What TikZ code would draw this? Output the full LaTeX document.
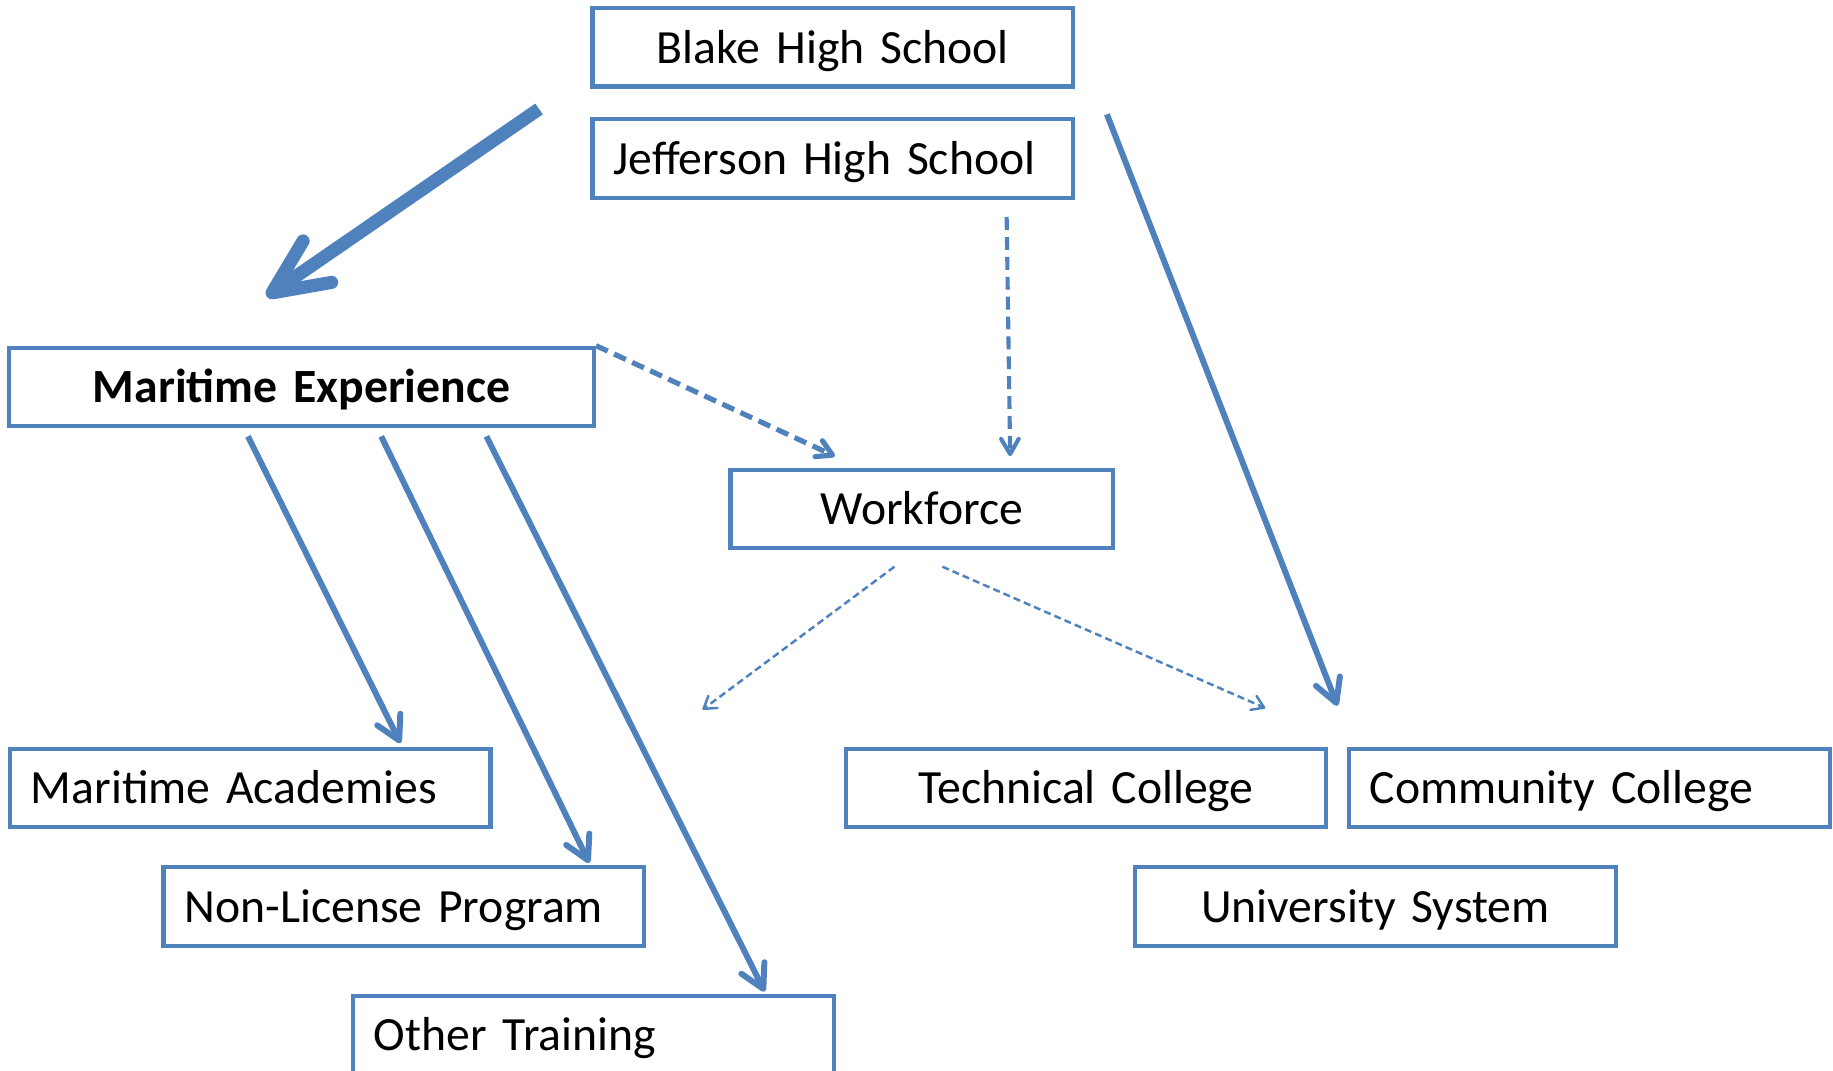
\documentclass[tikz,border=0pt]{standalone}
\usepackage{fontspec}
\setmainfont{Carlito}[WordSpace=0.85]
\usetikzlibrary{arrows.meta}
\definecolor{accent}{RGB}{79,129,189}
\begin{document}
\begin{tikzpicture}[x=0.01cm, y=-0.01cm,
		box/.style={draw=accent, line width=1pt, rectangle, minimum height=0.67cm, inner xsep=0.18cm, inner ysep=0pt, text width=3.75cm, text height=0.31cm, text depth=0.04cm, font=\fontsize{11.6}{14}\selectfont},
		lbox/.style={box, align=left},
		cbox/.style={box, align=center},
		solid arrow/.style={draw=accent, line width=1.45pt, -{Straight Barb[round, length=0.2cm, width=0.22cm]}},
		thick arrow/.style={draw=accent, line width=3.2pt, -{Straight Barb[round, length=0.47cm, width=0.43cm]}},
		dash arrow/.style={draw=accent, line width=1.25pt, dash pattern=on 0.11cm off 0.06cm, -{Straight Barb[round, length=0.13cm, width=0.15cm]}},
		thin arrow/.style={draw=accent, line width=0.6pt, dash pattern=on 0.06cm off 0.035cm, -{Straight Barb[round, length=0.1cm, width=0.13cm]}} ]
	\useasboundingbox (0,0) rectangle (1568,916);

	\node[cbox] (BHS) at (712.5, 40.5) {Blake High School};
	\node[lbox] (JHS) at (712.5, 135.5) {Jefferson High School};
	\node[cbox, text width=4.64cm, font=\fontsize{11.6}{14}\selectfont\bfseries] (ME) at (258, 331) {Maritime Experience};
	\node[cbox, text width=2.91cm] (WF) at (788.5, 435.5) {Workforce};

	\node[lbox] (MA) at (214, 674) {Maritime Academies};
	\node[lbox] (NLP) at (345.5, 775.5) {Non-License Program};
	\node[lbox] (OT) at (507.5, 885.5) {Other Training};

	\node[cbox] (TC) at (929, 674) {Technical College};
	\node[lbox] (CC) at (1359.5, 674) {Community College};
	\node[cbox] (US) at (1176.5, 775.5) {University System};

	\coordinate (open) at (601, 607);

	% high schools
	\draw[thick arrow] ([shift={(-44,-7)}]JHS.north west) -- ([shift={(222,-42)}]ME.north west);
	\draw[solid arrow] ([shift={(27,22)}]BHS.south east) -- ([shift={(-8,-35)}]CC.north west);
	\draw[dash arrow, line width=1pt] ([shift={(356,15)}]JHS.south west) -- ([shift={(241,-10)}]WF.north west);

	% maritime experience
	\draw[dash arrow] (ME.north east) -- ([shift={(91,-10)}]WF.north west);
	\draw[solid arrow] ([shift={(206,7)}]ME.south west) -- ([shift={(336,-3)}]MA.north west);
	\draw[solid arrow] ([shift={(320,7)}]ME.south west) -- ([shift={(366,-2)}]NLP.north west);
	\draw[solid arrow] ([shift={(410,7)}]ME.south west) -- ([shift={(354,-2)}]OT.north west);

	% workforce
	\draw[thin arrow] ([shift={(142,14)}]WF.south west) -- (open);
	\draw[thin arrow] ([shift={(183,14)}]WF.south west) -- ([shift={(-54,-33)}]TC.north east);
\end{tikzpicture}
\end{document}
